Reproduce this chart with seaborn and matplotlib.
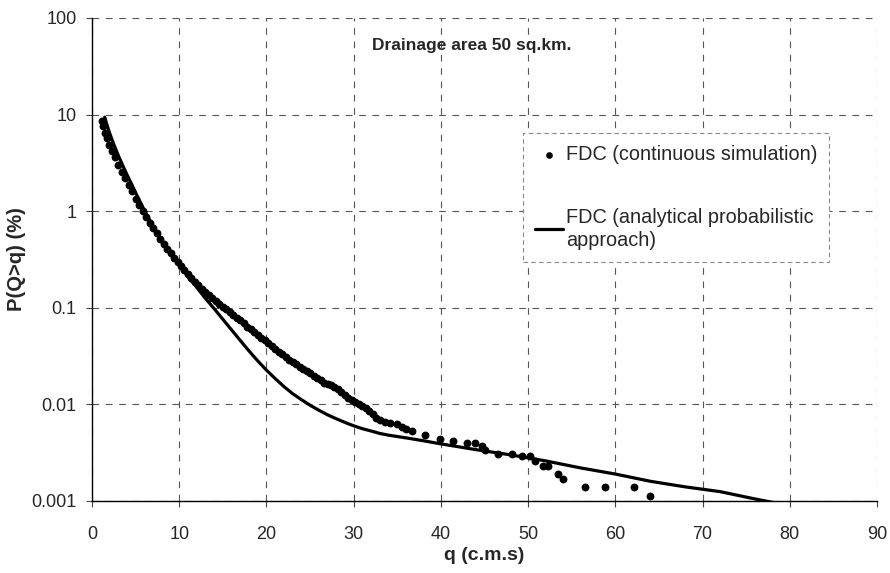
import matplotlib
matplotlib.use("Agg")
import matplotlib.pyplot as plt
import seaborn as sns
import pandas as pd

# ---- data ----
q_sim = [1.2, 1.3, 1.5, 1.7, 2.0, 2.3, 2.6, 3.0, 3.4, 3.8, 4.2, 4.6, 5.0, 5.4, 5.8,
         6.2, 6.6, 7.0, 7.4, 7.8, 8.2, 8.6, 9.0, 9.4, 9.8, 10.2, 10.6, 11.0, 11.4,
         11.8, 12.2, 12.6, 13.0, 13.4, 13.8, 14.2, 14.6, 15.0, 15.4, 15.8, 16.2,
         16.6, 17.0, 17.4, 17.8, 18.2, 18.6, 19.0, 19.4, 19.8, 20.2, 20.6, 21.0,
         21.4, 21.8, 22.2, 22.6, 23.0, 23.4, 23.8, 24.2, 24.6, 25.0, 25.4, 25.8,
         26.2, 26.6, 27.0, 27.4, 27.8, 28.2, 28.6, 29.0, 29.4, 29.8, 30.2, 30.6,
         31.0, 31.4, 31.8, 32.2, 32.6, 33.0, 33.6, 34.2, 35.0, 35.5, 36.0, 36.7,
         38.2, 39.9, 41.4, 43.0, 43.9, 44.7, 45.1, 46.6, 48.1, 49.3, 50.2, 50.8,
         51.7, 52.3, 53.4, 54.0, 56.5, 58.8, 62.1, 64.0]
p_sim = [8.5, 7.6, 6.5, 5.7, 4.9, 4.2, 3.6, 3.0, 2.55, 2.2, 1.85, 1.6, 1.35, 1.15, 1.0,
         0.87, 0.76, 0.67, 0.59, 0.52, 0.46, 0.41, 0.37, 0.33, 0.30, 0.27, 0.245,
         0.225, 0.205, 0.187, 0.172, 0.158, 0.146, 0.135, 0.126, 0.118, 0.11, 0.103,
         0.097, 0.091, 0.085, 0.079, 0.074, 0.069, 0.064, 0.06, 0.056, 0.052, 0.049,
         0.046, 0.043, 0.040, 0.0375, 0.035, 0.033, 0.031, 0.029, 0.0275, 0.026,
         0.0245, 0.0235, 0.0222, 0.021, 0.0198, 0.0187, 0.0178, 0.0168, 0.0162,
         0.0158, 0.0152, 0.0143, 0.0133, 0.0124, 0.0117, 0.0112, 0.0107, 0.0102,
         0.0097, 0.0091, 0.0085, 0.0079, 0.0073, 0.0069, 0.0066, 0.0064, 0.0063,
         0.0059, 0.0056, 0.0053, 0.0048, 0.0044, 0.0042, 0.004, 0.004, 0.0037,
         0.0034, 0.0031, 0.0031, 0.0029, 0.0029, 0.0026, 0.0023, 0.0023, 0.0019,
         0.0017, 0.0014, 0.0014, 0.0014, 0.00112]

q_ana = [1.45, 1.7, 2.0, 2.5, 3.0, 3.5, 4.0, 5.0, 6.0, 7.0, 8.0, 9.0, 10.0, 11.0,
         12.0, 13.0, 14.0, 15.0, 16.0, 17.0, 18.0, 19.0, 20.0, 21.0, 22.0, 23.0,
         24.0, 25.0, 26.0, 27.0, 28.0, 29.0, 30.0, 31.0, 32.0, 33.0, 34.0, 36.0,
         38.0, 40.0, 44.0, 48.0, 52.0, 56.0, 60.0, 64.0, 68.0, 72.0, 76.0, 79.0]
p_ana = [9.4, 7.9, 6.5, 4.9, 3.8, 3.0, 2.4, 1.55, 1.02, 0.70, 0.50, 0.38, 0.28, 0.21,
         0.163, 0.125, 0.098, 0.076, 0.059, 0.0458, 0.0357, 0.0282, 0.0226, 0.0185,
         0.0153, 0.0129, 0.0112, 0.0098, 0.0087, 0.0078, 0.0071, 0.0065, 0.0060,
         0.0056, 0.0053, 0.0050, 0.0048, 0.0045, 0.0042, 0.0039, 0.0034, 0.0030,
         0.0026, 0.0022, 0.0019, 0.0016, 0.0014, 0.00125, 0.00105, 0.00093]

y_ticks = [0.001, 0.01, 0.1, 1, 10, 100]
y_labels = ["0.001", "0.01", "0.1", "1", "10", "100"]
x_ticks = [0, 10, 20, 30, 40, 50, 60, 70, 80, 90]

title_text = "Drainage area 50 sq.km."
label_sim = "FDC (continuous simulation)"
label_ana = "FDC (analytical probabilistic\napproach)"

sns.set_style("white")
plt.rcParams["font.family"] = ["Liberation Sans", "DejaVu Sans"]

fig = plt.figure(figsize=(8.9, 5.73), dpi=100)
ax = fig.add_axes([0.1034, 0.1257, 0.8820, 0.8429])

df_sim = pd.DataFrame({"q": q_sim, "p": p_sim})
df_ana = pd.DataFrame({"q": q_ana, "p": p_ana})

sns.scatterplot(data=df_sim, x="q", y="p", ax=ax, color="black", s=32,
                edgecolor="black", linewidth=0, label=label_sim, zorder=3)
sns.lineplot(data=df_ana, x="q", y="p", ax=ax, color="black", linewidth=2.3,
             label=label_ana, zorder=4, sort=False)

ax.set_yscale("log")
ax.set_xlim(0, 90)
ax.set_ylim(0.001, 100)
ax.set_xticks(x_ticks)
ax.set_xticklabels([str(v) for v in x_ticks], fontsize=13)
ax.set_yticks(y_ticks)
ax.set_yticklabels(y_labels, fontsize=13)
ax.minorticks_off()

ax.grid(True, which="major", color="#555555", linestyle=(0, (6, 6)), linewidth=0.8)
ax.tick_params(axis="both", which="major", length=4, width=0.8, color="#444444",
               direction="out", bottom=True, left=True)
ax.tick_params(axis="x", pad=14)
ax.tick_params(axis="y", pad=7)

for side in ["top", "right"]:
    ax.spines[side].set_visible(False)
for side in ["left", "bottom"]:
    ax.spines[side].set_color("black")
    ax.spines[side].set_linewidth(1.0)

ax.set_xlabel("q (c.m.s)", fontsize=14, fontweight="bold", labelpad=3)
ax.set_ylabel("P(Q>q) (%)", fontsize=14.5, fontweight="bold", labelpad=4)

ax.text(0.357, 0.944, title_text, transform=ax.transAxes, fontsize=12.5,
        fontweight="bold", ha="left", va="center")

leg = ax.legend(loc="upper left", bbox_to_anchor=(0.549, 0.762), fontsize=14.3,
                frameon=True, fancybox=False, framealpha=1, edgecolor="#888888",
                labelspacing=2.2, handlelength=1.4, handletextpad=0.15,
                borderpad=0.6, markerscale=0.85, borderaxespad=0)
leg.get_frame().set_linewidth(0.8)
leg.get_frame().set_linestyle((0, (4, 3)))
for t in leg.get_texts():
    t.set_linespacing(1.3)

fig.savefig("out.png", dpi=100)
